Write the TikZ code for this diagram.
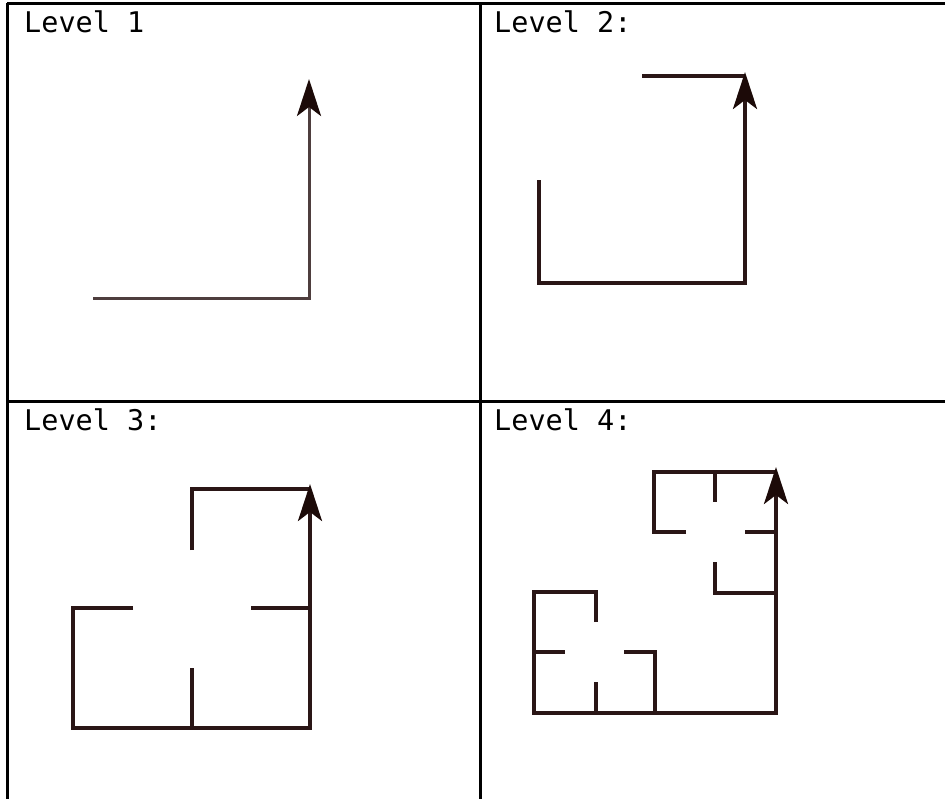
\documentclass[tikz,border=0pt]{standalone}
\usepackage{fontspec}
\setmonofont{DejaVu Sans Mono}
\usetikzlibrary{arrows.meta}
\definecolor{gridc}{RGB}{0,0,0}
\definecolor{curveA}{RGB}{78,62,62}
\definecolor{curveB}{RGB}{42,22,22}
\definecolor{tipc}{RGB}{28,10,8}
\tikzset{
  tablerule/.style={draw=gridc, line width=3pt},
  label/.style={anchor=base west, inner sep=0pt, font=\ttfamily\fontsize{28.5}{28.5}\selectfont},
  curveone/.style={draw=curveA, line width=3pt, line cap=butt, line join=miter},
  curve/.style={draw=curveB, line width=3.4pt, line cap=butt, line join=miter},
  arrowend/.style={-{Stealth[length=37pt,width=24pt,inset=9pt,fill=tipc,color=tipc]}},
}
\begin{document}
\begin{tikzpicture}[x=1pt,y=-1pt]
\useasboundingbox (0,0) rectangle (945,798);
% table
\draw[tablerule] (7,3) -- (946,3);
\draw[tablerule] (7,3) -- (7,799);
\draw[tablerule] (480,3) -- (480,799);
\draw[tablerule] (7,401) -- (946,401);
% labels
\node[label] (t1) at (24,32) {Level 1};
\node[label] (t2) at (494,32) {Level 2:};
\node[label] (t3) at (24,430) {Level 3:};
\node[label] (t4) at (494,430) {Level 4:};
% level 1
\draw[curveone,arrowend] (93,298) -- (309,298) -- (309,79);
% level 2
\draw[curve] (642,76) -- (745,76);
\draw[curve,arrowend] (539,180) -- (539,283) -- (745,283) -- (745,72);
% level 3
\draw[curve] (192,550) -- (192,489) -- (310,489);
\draw[curve] (251,608) -- (310,608);
\draw[curve] (192,668) -- (192,728);
\draw[curve,arrowend] (133,608) -- (73,608) -- (73,728) -- (310,728) -- (310,484);
% level 4
\draw[curve] (686,532) -- (654,532) -- (654,472) -- (776,472);
\draw[curve] (715,472) -- (715,502);
\draw[curve] (745,532) -- (776,532);
\draw[curve] (715,562) -- (715,593) -- (776,593);
\draw[curve] (534,652) -- (565,652);
\draw[curve] (624,652) -- (655,652) -- (655,713);
\draw[curve] (596,682) -- (596,713);
\draw[curve,arrowend] (596,622) -- (596,592) -- (534,592) -- (534,713) -- (776,713) -- (776,467);
\end{tikzpicture}
\end{document}
